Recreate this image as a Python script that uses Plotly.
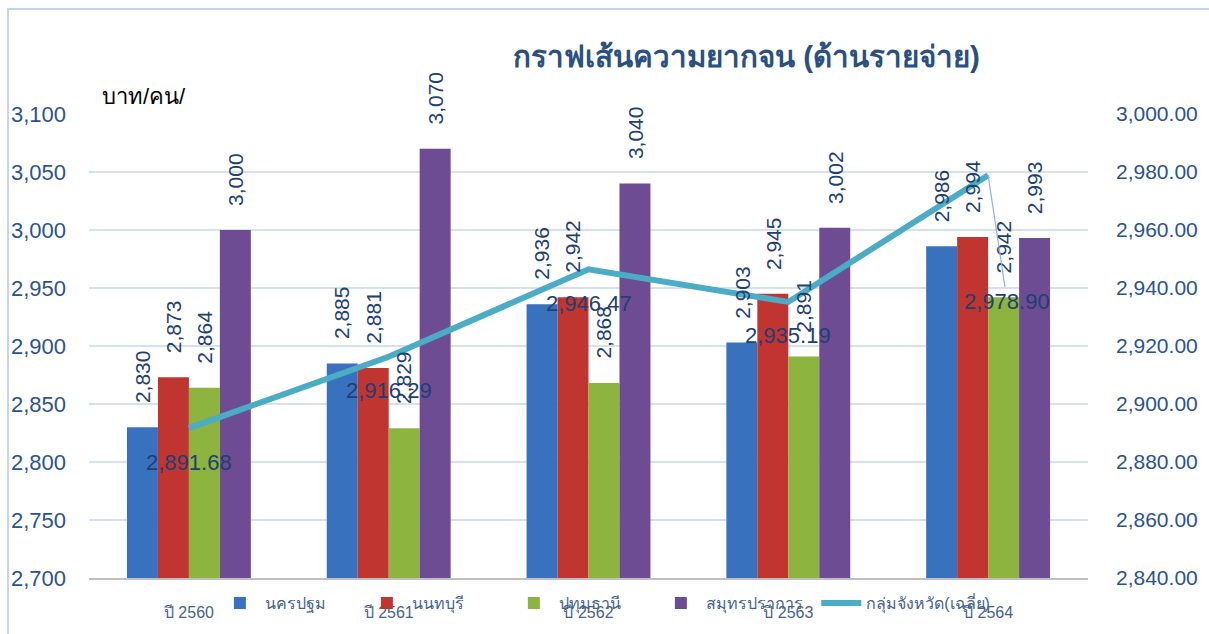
import plotly.graph_objects as go

categories = ["ปี 2560", "ปี 2561", "ปี 2562", "ปี 2563", "ปี 2564"]
nakhon_pathom = [2830, 2885, 2936, 2903, 2986]
nonthaburi = [2873, 2881, 2942, 2945, 2994]
pathum_thani = [2864, 2829, 2868, 2891, 2942]
samut_prakan = [3000, 3070, 3040, 3002, 2993]
group_avg = [2891.68, 2916.29, 2946.47, 2935.19, 2978.90]

series_names = ["นครปฐม", "นนทบุรี", "ปทุมธานี", "สมุทรปราการ"]
series_values = [nakhon_pathom, nonthaburi, pathum_thani, samut_prakan]
series_colors = ["#3872BE", "#C0352F", "#8CB43E", "#6D4C94"]
line_name = "กลุ่มจังหวัด(เฉลี่ย)"
title_text = "กราฟเส้นความยากจน (ด้านรายจ่าย)"
unit_text = "บาท/คน/"

FONT = "Liberation Sans, Noto Sans, sans-serif"
LABEL_COLOR = "#203F73"
TICK_COLOR = "#2B5391"
LEGEND_FONT = dict(family=FONT, size=16, color="#44628F")

fig = go.Figure()
for name, vals, col in zip(series_names, series_values, series_colors):
    fig.add_trace(go.Bar(x=categories, y=vals, name=name,
                         marker=dict(color=col, line=dict(width=0)),
                         yaxis="y", legend="legend"))

fig.add_trace(go.Scatter(x=categories, y=group_avg, name=line_name, mode="lines",
                         line=dict(color="#4BACC6", width=6), yaxis="y2",
                         legend="legend2"))

annotations = []
bar_w = 31
for i, vals in enumerate(series_values):
    for c, v in zip(categories, vals):
        annotations.append(dict(x=c, y=v, xref="x", yref="y", text=f"{v:,}",
                                showarrow=False, textangle=-90,
                                xshift=(i - 1.5) * bar_w, yshift=22,
                                yanchor="bottom", xanchor="center",
                                font=dict(family=FONT, size=21, color=LABEL_COLOR)))

for j, (c, v) in enumerate(zip(categories, group_avg)):
    if j == len(categories) - 1:
        annotations.append(dict(x=c, y=v, xref="x", yref="y2", text=f"{v:,.2f}",
                                showarrow=True, arrowhead=0, arrowwidth=1.2,
                                arrowcolor="#8EB4E3", ax=19, ay=126,
                                font=dict(family=FONT, size=22, color=LABEL_COLOR)))
    else:
        annotations.append(dict(x=c, y=v, xref="x", yref="y2", text=f"{v:,.2f}",
                                showarrow=False, yshift=-34,
                                font=dict(family=FONT, size=22, color=LABEL_COLOR)))

annotations.append(dict(x=0.658, y=1.123, xref="paper", yref="paper", text=f"<b>{title_text}</b>",
                        showarrow=False, xanchor="center", yanchor="middle",
                        font=dict(family=FONT, size=29.5, color="#2A5082")))
annotations.append(dict(x=0.011, y=1.037, xref="paper", yref="paper", text=unit_text,
                        showarrow=False, xanchor="left", yanchor="middle",
                        font=dict(family=FONT, size=22, color="#000000")))

fig.update_layout(
    width=1209, height=634,
    margin=dict(l=89, r=121, t=114, b=56, autoexpand=False),
    paper_bgcolor="white", plot_bgcolor="white",
    barmode="group", bargap=0.38, bargroupgap=0,
    showlegend=True,
    legend=dict(orientation="h", x=0.126, y=-0.054, xanchor="left", yanchor="middle",
                font=LEGEND_FONT, bgcolor="rgba(0,0,0,0)",
                entrywidth=92, entrywidthmode="pixels",
                itemwidth=40, tracegroupgap=0),
    legend2=dict(orientation="h", x=0.728, y=-0.054, xanchor="left", yanchor="middle",
                 font=LEGEND_FONT, bgcolor="rgba(0,0,0,0)", itemwidth=40),
    xaxis=dict(showgrid=False, showline=True, linecolor="#BFBFBF", linewidth=2,
               ticks="", ticklabelstandoff=19,
               tickfont=dict(family=FONT, size=16, color="#44628F")),
    yaxis=dict(range=[2700, 3100], dtick=50, tickformat=",", showgrid=True,
               gridcolor="#D6E1F0", gridwidth=2, zeroline=False, showline=False,
               ticks="", ticklabelstandoff=22,
               tickfont=dict(family=FONT, size=22, color=TICK_COLOR)),
    yaxis2=dict(range=[2840, 3000], dtick=20, tickformat=",.2f", overlaying="y",
                side="right", showgrid=False, zeroline=False, showline=False,
                ticks="", ticklabelstandoff=27,
                tickfont=dict(family=FONT, size=21, color=TICK_COLOR)),
    annotations=annotations,
    shapes=[dict(type="rect", xref="paper", yref="paper",
                 x0=-0.0811, x1=1.127, y0=-0.134, y1=1.2263,
                 line=dict(color="#C5D6EC", width=2), layer="below")],
)

fig.write_html("out.html", config={"displayModeBar": False},
               post_script="document.body.style.margin='0px';document.body.style.overflow='hidden';")
